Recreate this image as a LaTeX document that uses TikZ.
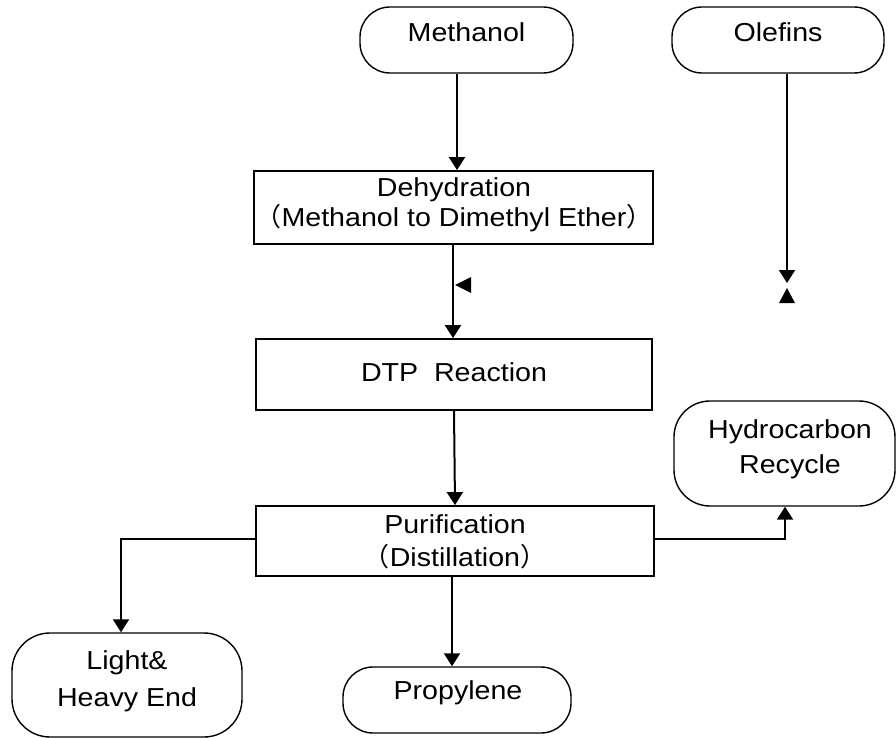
\documentclass[tikz,border=0pt]{standalone}
\usepackage{fontspec}
\setmainfont{Liberation Sans}[FakeStretch=1.1]
\newfontfamily\cjkfont{Noto Sans CJK JP}
\usetikzlibrary{arrows.meta}
\newcommand{\lpar}{{\cjkfont （}}
\newcommand{\rpar}{{\cjkfont ）}}
\begin{document}
\begin{tikzpicture}[x=1pt,y=-1pt,
  procbox/.style={draw, line width=1.8pt, rectangle, inner sep=0pt},
  termbox/.style={draw, line width=1.4pt, rectangle, rounded corners=30pt, inner sep=0pt},
  lbl/.style={font=\fontsize{26}{33}\selectfont, align=center, inner sep=0pt},
  flow/.style={line width=2pt, -{Triangle[length=13pt,width=16pt]}}]
\useasboundingbox (0,0) rectangle (896,738);
\fill[white] (0,0) rectangle (896,738);
% boxes
\node[termbox, minimum width=213pt, minimum height=66pt] (meth) at (466.5,40) {};
\node[termbox, minimum width=212pt, minimum height=66pt] (ole) at (778,40) {};
\node[procbox, minimum width=399pt, minimum height=73pt] (dehy) at (453.5,207.5) {};
\node[procbox, minimum width=396pt, minimum height=71pt] (dtp) at (454,374.5) {};
\node[procbox, minimum width=398pt, minimum height=70pt] (pur) at (455,541) {};
\node[termbox, minimum width=221pt, minimum height=105pt, rounded corners=36pt] (hyd) at (784.5,453.5) {};
\node[termbox, minimum width=230pt, minimum height=104pt, rounded corners=38pt] (light) at (127,685) {};
\node[termbox, minimum width=228pt, minimum height=66pt] (prop) at (457,700) {};
% texts
\node[lbl] (methT) at (466.5,32) {Methanol};
\node[lbl] (oleT) at (778,32) {Olefins};
\node[lbl, font=\fontsize{26}{30}\selectfont] (dehyT) at (454,205) {Dehydration\\\lpar Methanol to Dimethyl Ether\rpar};
\node[lbl] (dtpT) at (454,372) {DTP\ \ Reaction};
\node[lbl] (purT) at (455,541.5) {Purification\\\lpar Distillation\rpar};
\node[lbl, font=\fontsize{26}{35}\selectfont] (hydT) at (790,449.5) {Hydrocarbon\\Recycle};
\node[lbl, font=\fontsize{26}{37}\selectfont] (lightT) at (127,681) {Light\&\\Heavy End};
\node[lbl] (propT) at (458,693) {Propylene};
% connectors
\draw[flow] ([xshift=-9.5pt]meth.south) -- ([xshift=3.5pt]dehy.north);
\draw[flow] ([xshift=-0.5pt]dehy.south) -- ([xshift=-1pt]dtp.north);
\coordinate (oend) at (787,283);
\draw[flow] ([xshift=9pt]ole.south) -- (oend);
\draw[flow] (dtp.south) -- (pur.north);
\draw[flow] ([yshift=2pt]pur.west) -| ([xshift=-6pt]light.north);
\draw[flow] ([yshift=2pt]pur.east) -| ([xshift=0.5pt]hyd.south);
\draw[flow] ([xshift=-3pt]pur.south) -- ([xshift=-5pt]prop.north);
% stray arrowheads
\fill (455,285) -- (471,277) -- (471,293) -- cycle;
\fill (787,288) -- (795,303) -- (779,303) -- cycle;
\end{tikzpicture}
\end{document}
